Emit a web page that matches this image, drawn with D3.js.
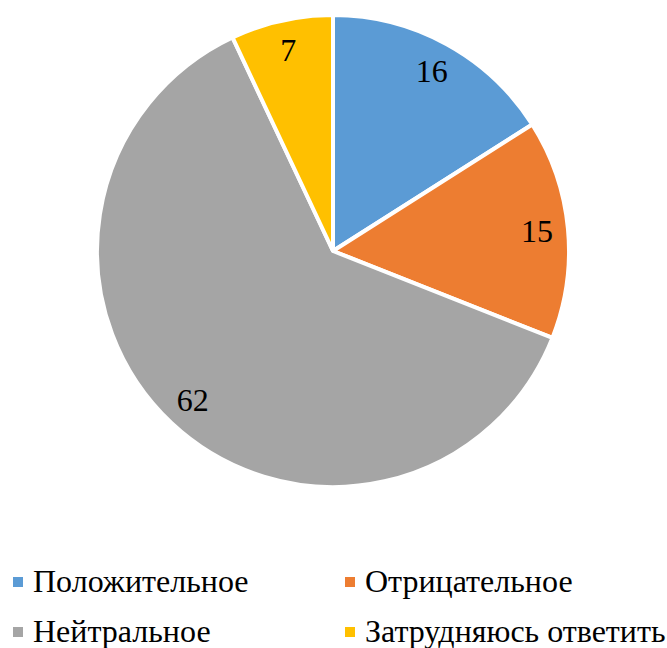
<!DOCTYPE html>
<html>
<head>
<meta charset="utf-8">
<script src="https://cdn.jsdelivr.net/npm/d3@7"></script>
<style>
  body { margin: 0; background: #fff; }
</style>
</head>
<body>
<div id="root"></div>
<script>
var width = 667;
var height = 648;

var categories = ['Положительное', 'Отрицательное', 'Нейтральное', 'Затрудняюсь ответить'];
var values = [16, 15, 62, 7];
var colors = ['#5b9bd5', '#ed7d31', '#a5a5a5', '#ffc000'];

var fontFamily = "'Liberation Serif', 'Times New Roman', 'DejaVu Serif', serif";

var svg = d3.select('#root')
    .append('svg')
    .attr('width', width).attr('height', height);

var cx = 333, cy = 251, radius = 236;

var pie = d3.pie().sort(null).value(function (d) { return d; });
var arc = d3.arc().innerRadius(0).outerRadius(radius);
var labelArc = d3.arc().innerRadius(205).outerRadius(205);

var g = svg.append('g')
    .attr('transform', 'translate(' + cx + ',' + cy + ')');

var arcs = pie(values);

g.selectAll('.slice')
    .data(arcs).enter()
    .append('path')
    .attr('class', 'slice')
    .attr('d', arc)
    .attr('fill', function (d, i) { return colors[i]; })
    .attr('stroke', '#fff')
    .attr('stroke-width', 4)
    .attr('stroke-linejoin', 'round');

g.selectAll('.lbl')
    .data(arcs).enter()
    .append('text')
    .attr('class', 'lbl')
    .attr('transform', function (d) { return 'translate(' + labelArc.centroid(d) + ')'; })
    .attr('text-anchor', 'middle')
    .attr('dy', '0.33em')
    .attr('font-family', fontFamily)
    .attr('font-size', 32)
    .attr('fill', '#000')
    .text(function (d) { return d.data; });

// legend, 2 columns
var colX = [13, 345];
var rowY = [592, 642];
var leg = svg.selectAll('.leg')
    .data(categories).enter()
    .append('g')
    .attr('class', 'leg')
    .attr('transform', function (d, i) {
        return 'translate(' + colX[i % 2] + ',' + rowY[Math.floor(i / 2)] + ')';
    });
leg.append('rect')
    .attr('x', 0).attr('y', -15)
    .attr('width', 10).attr('height', 10)
    .attr('fill', function (d, i) { return colors[i]; });
leg.append('text')
    .attr('x', 20)
    .attr('font-family', fontFamily)
    .attr('font-size', 32)
    .attr('fill', '#000')
    .text(function (d) { return d; });
</script>
</body>
</html>
